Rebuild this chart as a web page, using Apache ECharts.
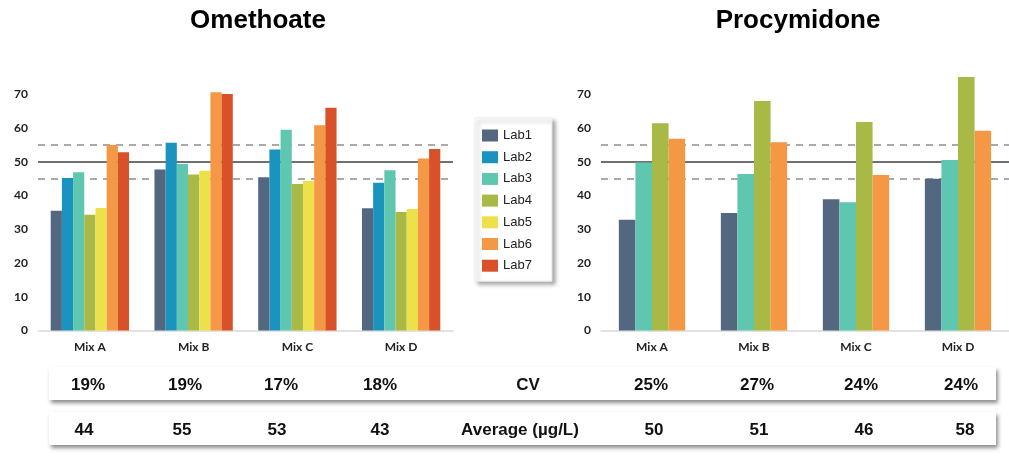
<!DOCTYPE html>
<html>
<head>
<meta charset="utf-8">
<script src="https://cdn.jsdelivr.net/npm/echarts@6/dist/echarts.min.js"></script>
<style>
html,body{margin:0;padding:0;background:#fff;}
#chart{width:1009px;height:461px;}
</style>
</head>
<body>
<div id="chart"></div>
<script>
// ---- data ----
const mixes = ['Mix A', 'Mix B', 'Mix C', 'Mix D'];
const labs = ['Lab1', 'Lab2', 'Lab3', 'Lab4', 'Lab5', 'Lab6', 'Lab7'];
const yTicks = [0, 10, 20, 30, 40, 50, 60, 70];
// Omethoate values per lab (Mix A..D)
const omeLab1 = [35.5, 47.7, 45.4, 36.2];
const omeLab2 = [45.2, 55.6, 53.6, 43.8];
const omeLab3 = [46.9, 49.3, 59.5, 47.5];
const omeLab4 = [34.3, 46.2, 43.4, 35.1];
const omeLab5 = [36.3, 47.3, 44.3, 36.0];
const omeLab6 = [55.0, 70.6, 60.8, 51.0];
const omeLab7 = [52.8, 70.1, 66.0, 53.8];
// Procymidone values (only Lab1, Lab3, Lab4, Lab6 reported)
const proLabs = ['Lab1', 'Lab3', 'Lab4', 'Lab6'];
const proLab1 = [32.8, 34.8, 38.9, 45.0];
const proLab3 = [49.8, 46.4, 38.0, 50.5];
const proLab4 = [61.4, 68.0, 61.8, 75.1];
const proLab6 = [56.8, 55.8, 46.1, 59.2];
// reference lines
const refCenter = 50;
const refLow = 45;
const refHigh = 55;
// table
const cvOme = ['19%', '19%', '17%', '18%'];
const cvPro = ['25%', '27%', '24%', '24%'];
const avgOme = ['44', '55', '53', '43'];
const avgPro = ['50', '51', '46', '58'];
const cvLabel = 'CV';
const avgLabel = 'Average (\u00b5g/L)';
const titles = ['Omethoate', 'Procymidone'];

// ---- styles ----
const colors = {
  Lab1: '#536780', Lab2: '#1a93be', Lab3: '#5fc6b0', Lab4: '#a8b945',
  Lab5: '#ede04a', Lab6: '#f49845', Lab7: '#d95128'
};
const omeData = [omeLab1, omeLab2, omeLab3, omeLab4, omeLab5, omeLab6, omeLab7];
const proData = [proLab1, proLab3, proLab4, proLab6];

const markLine = {
  silent: true, symbol: 'none', z: 1,
  label: {show: false},
  data: [
    {yAxis: refCenter, lineStyle: {color: '#707070', width: 2, type: 'solid'}},
    {yAxis: refLow, lineStyle: {color: '#a9a9a9', width: 2, type: [7, 6]}},
    {yAxis: refHigh, lineStyle: {color: '#a9a9a9', width: 2, type: [7, 6]}}
  ]
};

const series = [];
labs.forEach((lab, i) => {
  series.push({
    name: lab, type: 'bar', xAxisIndex: 0, yAxisIndex: 0,
    barGap: '0%', barCategoryGap: '24.5%', z: 2,
    itemStyle: {color: colors[lab]},
    data: omeData[i],
    markLine: i === 0 ? markLine : undefined
  });
});
proLabs.forEach((lab, i) => {
  series.push({
    name: lab, type: 'bar', xAxisIndex: 1, yAxisIndex: 1,
    barGap: '0%', barCategoryGap: '35%', z: 2,
    itemStyle: {color: colors[lab]},
    data: proData[i],
    markLine: i === 0 ? markLine : undefined
  });
});

function xAxis(idx) {
  return {
    type: 'category', gridIndex: idx, data: mixes,
    axisLine: {lineStyle: {color: '#d9d9d9', width: 1.5}},
    axisTick: {show: false},
    axisLabel: {color: '#222', fontFamily: 'Lato', fontWeight: 'bold', fontSize: 12, margin: 11}
  };
}
function yAxis(idx) {
  return {
    type: 'value', gridIndex: idx, min: yTicks[0], max: 76, interval: 10,
    axisLine: {show: false}, axisTick: {show: false}, splitLine: {show: false},
    axisLabel: {
      color: '#222', fontFamily: 'Lato', fontWeight: 'bold', fontSize: 12, margin: 10,
      formatter: v => (yTicks.indexOf(v) >= 0 ? String(v) : '')
    }
  };
}

// table graphics
const graphics = [];
function rowBox(y) {
  graphics.push({
    type: 'rect', left: 49, top: y, z: 0,
    shape: {width: 947, height: 33},
    style: {fill: '#fff', shadowBlur: 4, shadowOffsetX: 2, shadowOffsetY: 3, shadowColor: 'rgba(0,0,0,0.45)'}
  });
}
rowBox(367);
rowBox(412);
function txt(x, y, s) {
  graphics.push({
    type: 'text', x: x, y: y, z: 10,
    style: {text: s, fill: '#111', font: 'bold 17px "Liberation Sans", Arial, sans-serif',
      textAlign: 'center', textVerticalAlign: 'middle'}
  });
}
const xLeftRow1 = [88, 185, 281, 380];
const xRightRow1 = [651, 757, 861, 961];
const xLeftRow2 = [84, 182, 277, 380];
const xRightRow2 = [654, 759, 864, 965];
cvOme.forEach((s, i) => txt(xLeftRow1[i], 385, s));
cvPro.forEach((s, i) => txt(xRightRow1[i], 385, s));
avgOme.forEach((s, i) => txt(xLeftRow2[i], 430, s));
avgPro.forEach((s, i) => txt(xRightRow2[i], 430, s));
txt(528, 385, cvLabel);
txt(520, 430, avgLabel);
// titles
[[258, titles[0]], [798, titles[1]]].forEach(([x, s]) => {
  graphics.push({
    type: 'text', x: x, y: 21, z: 10,
    style: {text: s, fill: '#000', font: 'bold 26px "Liberation Sans", Arial, sans-serif',
      textAlign: 'center', textVerticalAlign: 'middle'}
  });
});

const chart = echarts.init(document.getElementById('chart'), null, {renderer: 'canvas'});
chart.setOption({
  animation: false,
  backgroundColor: '#fff',
  grid: [
    {left: 38, right: 556, top: 74, bottom: 130.5},
    {left: 601, right: -4, top: 74, bottom: 130.5}
  ],
  xAxis: [xAxis(0), xAxis(1)],
  yAxis: [yAxis(0), yAxis(1)],
  legend: {
    data: labs, orient: 'vertical', left: 475, top: 118,
    icon: 'rect', itemWidth: 16, itemHeight: 12, itemGap: 8.7,
    padding: [11, 20, 9, 7],
    backgroundColor: '#fff', borderColor: '#eee', borderWidth: 1,
    shadowBlur: 4, shadowOffsetX: 3, shadowOffsetY: 3, shadowColor: 'rgba(0,0,0,0.35)',
    textStyle: {color: '#222', fontFamily: '"Liberation Sans", Arial, sans-serif', fontSize: 13, lineHeight: 12},
    selectedMode: false
  },
  graphic: graphics,
  series: series
});
</script>
</body>
</html>
